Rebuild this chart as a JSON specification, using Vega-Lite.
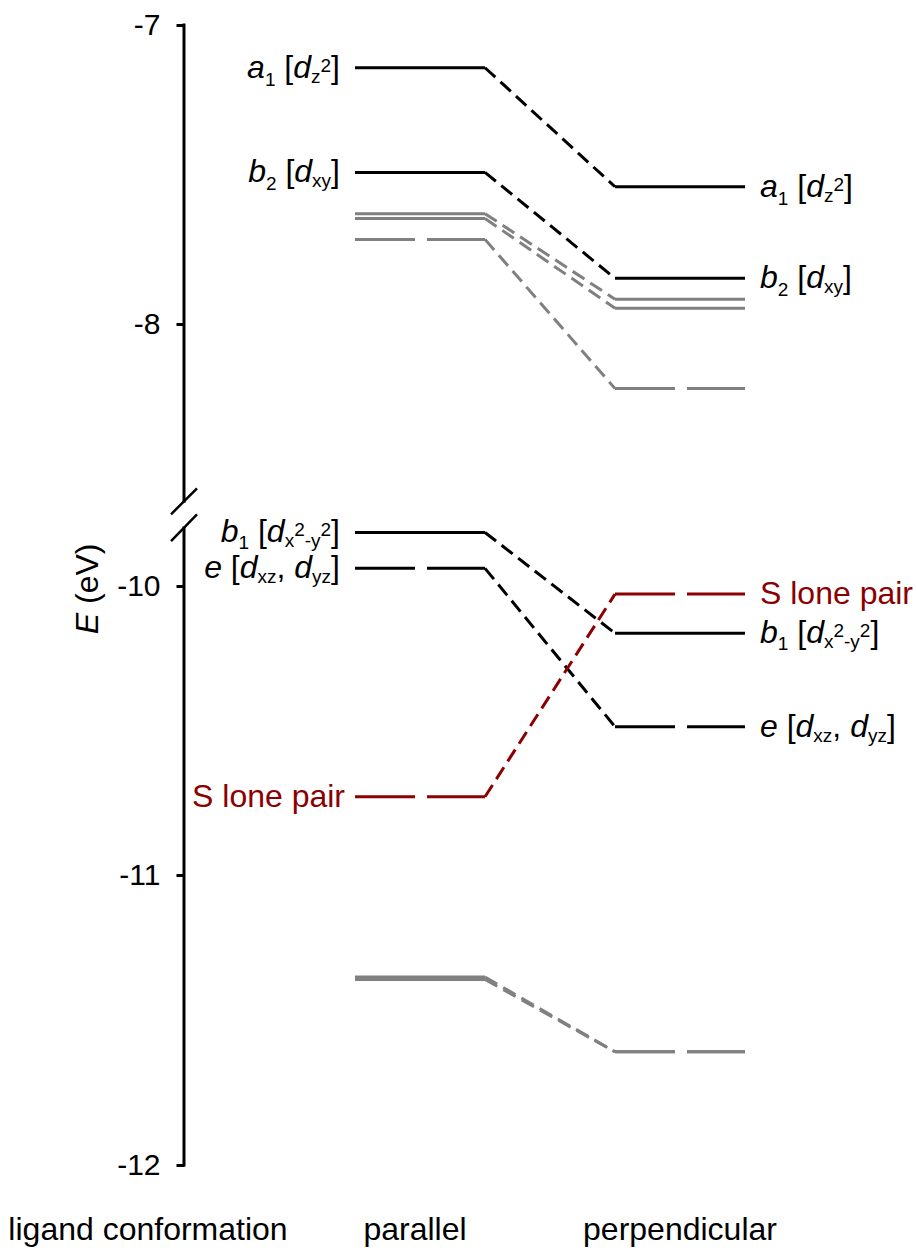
{
 "$schema": "https://vega.github.io/schema/vega-lite/v6.json",
 "width": 916,
 "height": 1140,
 "autosize": {"type": "none"},
 "padding": {"left": 0, "right": 0, "top": 25, "bottom": 86},
 "background": "white",
 "config": {
  "view": {"stroke": null},
  "font": "Liberation Sans",
  "text": {"font": "Liberation Sans", "baseline": "alphabetic", "align": "left", "fontSize": 32, "color": "black"}
 },
 "datasets": {
  "levels": [
   {"orb": "a1", "conf": "parallel", "E": -7.143, "type": "d orbital", "deg": "no"},
   {"orb": "a1", "conf": "perpendicular", "E": -7.541, "type": "d orbital", "deg": "no"},
   {"orb": "b2", "conf": "parallel", "E": -7.493, "type": "d orbital", "deg": "no"},
   {"orb": "b2", "conf": "perpendicular", "E": -7.847, "type": "d orbital", "deg": "no"},
   {"orb": "g1", "conf": "parallel", "E": -7.631, "type": "other", "deg": "no"},
   {"orb": "g1", "conf": "perpendicular", "E": -7.917, "type": "other", "deg": "no"},
   {"orb": "g2", "conf": "parallel", "E": -7.647, "type": "other", "deg": "no"},
   {"orb": "g2", "conf": "perpendicular", "E": -7.947, "type": "other", "deg": "no"},
   {"orb": "g3", "conf": "parallel", "E": -7.717, "type": "other", "deg": "yes"},
   {"orb": "g3", "conf": "perpendicular", "E": -8.216, "type": "other", "deg": "yes"},
   {"orb": "b1", "conf": "parallel", "E": -9.815, "type": "d orbital", "deg": "no"},
   {"orb": "b1", "conf": "perpendicular", "E": -10.163, "type": "d orbital", "deg": "no"},
   {"orb": "e", "conf": "parallel", "E": -9.939, "type": "d orbital", "deg": "yes"},
   {"orb": "e", "conf": "perpendicular", "E": -10.486, "type": "d orbital", "deg": "yes"},
   {"orb": "S", "conf": "parallel", "E": -10.728, "type": "S lone pair", "deg": "yes"},
   {"orb": "S", "conf": "perpendicular", "E": -10.028, "type": "S lone pair", "deg": "yes"},
   {"orb": "g4", "conf": "parallel", "E": -11.351, "type": "other", "deg": "no"},
   {"orb": "g4", "conf": "perpendicular", "E": -11.609, "type": "other", "deg": "yes"},
   {"orb": "g5", "conf": "parallel", "E": -11.359, "type": "other", "deg": "no"},
   {"orb": "g5", "conf": "perpendicular", "E": -11.609, "type": "other", "deg": "yes"}
  ]
 },
 "data": {"name": "levels"},
 "encoding": {
  "x": {"field": "conf", "type": "nominal", "bandPosition": 0,
   "scale": {"domain": ["ligand conformation", "parallel", "perpendicular"], "range": [95, 745], "paddingInner": 0.5, "paddingOuter": 0},
   "axis": {"orient": "bottom", "title": null, "domain": false, "ticks": false, "grid": false, "labelFont": "Liberation Sans", "labelFontSize": 32, "labelColor": "black", "labelPadding": 49, "labelAngle": 0, "labelLimit": 0, "labelOverlap": false,
    "labelOffset": {"condition": [{"test": "datum.value === 'ligand conformation'", "value": -12}, {"test": "datum.value === 'parallel'", "value": -5}], "value": 0}}},
  "y": {"field": "E", "type": "quantitative",
   "scale": {"domain": [-12, -9.8, -8.6, -7], "range": [1140, 503.1, 478.4, 0], "nice": false, "zero": false},
   "axis": {"title": null, "domain": false, "offset": -184, "values": [-12, -11, -10, -8, -7], "labelExpr": "'' + datum.value", "labelFont": "Liberation Sans", "labelFontSize": 30, "labelColor": "black", "labelPadding": 16, "tickSize": 8, "tickWidth": 3, "tickColor": "black", "grid": false}}
 },
 "layer": [
  {"mark": {"type": "rule", "strokeWidth": 3},
   "encoding": {
    "x2": {"field": "conf", "bandPosition": 1},
    "color": {"field": "type", "type": "nominal", "scale": {"domain": ["d orbital", "other", "S lone pair"], "range": ["#000000", "#808080", "#8B0000"]}, "legend": null},
    "strokeDash": {"field": "deg", "type": "nominal", "scale": {"domain": ["no", "yes"], "range": [[1, 0], [60, 12]]}, "legend": null}
   }},
  {"transform": [{"pivot": "conf", "value": "E", "groupby": ["orb", "type"]}],
   "mark": {"type": "rule", "strokeWidth": 3, "strokeDash": [14, 7]},
   "encoding": {
    "x": {"datum": "parallel", "type": "nominal", "bandPosition": 1},
    "x2": {"datum": "perpendicular", "bandPosition": 0},
    "y": {"field": "parallel", "type": "quantitative"},
    "y2": {"field": "perpendicular"},
    "color": {"field": "type", "type": "nominal", "legend": null}
   }},
  {"transform": [{"filter": "datum.orb === 'a1' && datum.conf === 'parallel'"}],
   "mark": {"type": "rule", "strokeWidth": 3, "color": "black", "strokeCap": "square"},
   "encoding": {"x": {"datum": "ligand conformation", "type": "nominal", "bandPosition": 0.6846}, "y": {"datum": -12, "type": "quantitative"}, "y2": {"datum": -9.8}}},
  {"transform": [{"filter": "datum.orb === 'a1' && datum.conf === 'parallel'"}],
   "mark": {"type": "rule", "strokeWidth": 3, "color": "black", "strokeCap": "square"},
   "encoding": {"x": {"datum": "ligand conformation", "type": "nominal", "bandPosition": 0.6846}, "y": {"datum": -8.593, "type": "quantitative"}, "y2": {"datum": -7}}},
  {"transform": [{"filter": "datum.orb === 'a1' && datum.conf === 'parallel'"}],
   "mark": {"type": "rule", "strokeWidth": 2.5, "color": "black"},
   "encoding": {"x": {"datum": "ligand conformation", "type": "nominal", "bandPosition": 0.5846}, "x2": {"datum": "ligand conformation", "bandPosition": 0.7846}, "y": {"datum": -9.1296, "type": "quantitative"}, "y2": {"datum": -8.5495}}},
  {"transform": [{"filter": "datum.orb === 'a1' && datum.conf === 'parallel'"}],
   "mark": {"type": "rule", "strokeWidth": 2.5, "color": "black"},
   "encoding": {"x": {"datum": "ligand conformation", "type": "nominal", "bandPosition": 0.5846}, "x2": {"datum": "ligand conformation", "bandPosition": 0.7846}, "y": {"datum": -9.8446, "type": "quantitative"}, "y2": {"datum": -9.1296}}},
  {"transform": [{"filter": "datum.orb === 'a1' && datum.conf === 'parallel'"}],
   "mark": {"type": "text", "text": "E", "fontStyle": "italic", "angle": 270, "align": "right"},
   "encoding": {"x": {"datum": "ligand conformation", "type": "nominal", "bandPosition": 0.0269}, "y": {"datum": -10.093, "type": "quantitative"}}},
  {"transform": [{"filter": "datum.orb === 'a1' && datum.conf === 'parallel'"}],
   "mark": {"type": "text", "text": "(eV)", "angle": 270, "align": "left", "dx": 8.9},
   "encoding": {"x": {"datum": "ligand conformation", "type": "nominal", "bandPosition": 0.0269}, "y": {"datum": -10.093, "type": "quantitative"}}},

  {"transform": [{"filter": "datum.orb === 'a1'"}], "mark": {"type": "text", "text": "a", "fontStyle": "italic", "dy": 10, "dx": {"expr": "datum.conf === 'parallel' ? -107.9 : 145"}}},
  {"transform": [{"filter": "datum.orb === 'a1'"}], "mark": {"type": "text", "text": "1", "fontSize": 19, "dy": 18, "dx": {"expr": "datum.conf === 'parallel' ? -90.11 : 162.79"}}},
  {"transform": [{"filter": "datum.orb === 'a1'"}], "mark": {"type": "text", "text": "[", "dy": 10, "dx": {"expr": "datum.conf === 'parallel' ? -70.64 : 182.26"}}},
  {"transform": [{"filter": "datum.orb === 'a1'"}], "mark": {"type": "text", "text": "d", "fontStyle": "italic", "dy": 10, "dx": {"expr": "datum.conf === 'parallel' ? -61.75 : 191.15"}}},
  {"transform": [{"filter": "datum.orb === 'a1'"}], "mark": {"type": "text", "text": "z", "fontSize": 19, "dy": 15, "dx": {"expr": "datum.conf === 'parallel' ? -43.96 : 208.94"}}},
  {"transform": [{"filter": "datum.orb === 'a1'"}], "mark": {"type": "text", "text": "2", "fontSize": 19, "dy": 4, "dx": {"expr": "datum.conf === 'parallel' ? -34.46 : 218.44"}}},
  {"transform": [{"filter": "datum.orb === 'a1'"}], "mark": {"type": "text", "text": "]", "dy": 10, "dx": {"expr": "datum.conf === 'parallel' ? -23.9 : 229"}}},

  {"transform": [{"filter": "datum.orb === 'b2'"}], "mark": {"type": "text", "text": "b", "fontStyle": "italic", "dy": 10, "dx": {"expr": "datum.conf === 'parallel' ? -106.84 : 145"}}},
  {"transform": [{"filter": "datum.orb === 'b2'"}], "mark": {"type": "text", "text": "2", "fontSize": 19, "dy": 18, "dx": {"expr": "datum.conf === 'parallel' ? -89.05 : 162.79"}}},
  {"transform": [{"filter": "datum.orb === 'b2'"}], "mark": {"type": "text", "text": "[", "dy": 10, "dx": {"expr": "datum.conf === 'parallel' ? -69.58 : 182.26"}}},
  {"transform": [{"filter": "datum.orb === 'b2'"}], "mark": {"type": "text", "text": "d", "fontStyle": "italic", "dy": 10, "dx": {"expr": "datum.conf === 'parallel' ? -60.69 : 191.15"}}},
  {"transform": [{"filter": "datum.orb === 'b2'"}], "mark": {"type": "text", "text": "xy", "fontSize": 19, "dy": 15, "dx": {"expr": "datum.conf === 'parallel' ? -42.9 : 208.94"}}},
  {"transform": [{"filter": "datum.orb === 'b2'"}], "mark": {"type": "text", "text": "]", "dy": 10, "dx": {"expr": "datum.conf === 'parallel' ? -23.9 : 227.94"}}},

  {"transform": [{"filter": "datum.orb === 'b1'"}], "mark": {"type": "text", "text": "b", "fontStyle": "italic", "dy": 10, "dx": {"expr": "datum.conf === 'parallel' ? -134.29 : 145"}}},
  {"transform": [{"filter": "datum.orb === 'b1'"}], "mark": {"type": "text", "text": "1", "fontSize": 19, "dy": 17, "dx": {"expr": "datum.conf === 'parallel' ? -116.5 : 162.79"}}},
  {"transform": [{"filter": "datum.orb === 'b1'"}], "mark": {"type": "text", "text": "[", "dy": 10, "dx": {"expr": "datum.conf === 'parallel' ? -97.03 : 182.26"}}},
  {"transform": [{"filter": "datum.orb === 'b1'"}], "mark": {"type": "text", "text": "d", "fontStyle": "italic", "dy": 10, "dx": {"expr": "datum.conf === 'parallel' ? -88.14 : 191.15"}}},
  {"transform": [{"filter": "datum.orb === 'b1'"}], "mark": {"type": "text", "text": "x", "fontSize": 19, "dy": 15, "dx": {"expr": "datum.conf === 'parallel' ? -70.35 : 208.94"}}},
  {"transform": [{"filter": "datum.orb === 'b1'"}], "mark": {"type": "text", "text": "2", "fontSize": 19, "dy": 4, "dx": {"expr": "datum.conf === 'parallel' ? -60.85 : 218.44"}}},
  {"transform": [{"filter": "datum.orb === 'b1'"}], "mark": {"type": "text", "text": "-y", "fontSize": 19, "dy": 15, "dx": {"expr": "datum.conf === 'parallel' ? -50.29 : 229"}}},
  {"transform": [{"filter": "datum.orb === 'b1'"}], "mark": {"type": "text", "text": "2", "fontSize": 19, "dy": 4, "dx": {"expr": "datum.conf === 'parallel' ? -34.46 : 244.83"}}},
  {"transform": [{"filter": "datum.orb === 'b1'"}], "mark": {"type": "text", "text": "]", "dy": 10, "dx": {"expr": "datum.conf === 'parallel' ? -23.9 : 255.39"}}},

  {"transform": [{"filter": "datum.orb === 'e'"}], "mark": {"type": "text", "text": "e", "fontStyle": "italic", "dy": 10, "dx": {"expr": "datum.conf === 'parallel' ? -150.85 : 145"}}},
  {"transform": [{"filter": "datum.orb === 'e'"}], "mark": {"type": "text", "text": "[", "dy": 10, "dx": {"expr": "datum.conf === 'parallel' ? -124.16 : 171.69"}}},
  {"transform": [{"filter": "datum.orb === 'e'"}], "mark": {"type": "text", "text": "d", "fontStyle": "italic", "dy": 10, "dx": {"expr": "datum.conf === 'parallel' ? -115.27 : 180.58"}}},
  {"transform": [{"filter": "datum.orb === 'e'"}], "mark": {"type": "text", "text": "xz", "fontSize": 19, "dy": 15, "dx": {"expr": "datum.conf === 'parallel' ? -97.48 : 198.37"}}},
  {"transform": [{"filter": "datum.orb === 'e'"}], "mark": {"type": "text", "text": ",", "dy": 10, "dx": {"expr": "datum.conf === 'parallel' ? -78.48 : 217.37"}}},
  {"transform": [{"filter": "datum.orb === 'e'"}], "mark": {"type": "text", "text": "d", "fontStyle": "italic", "dy": 10, "dx": {"expr": "datum.conf === 'parallel' ? -60.69 : 235.16"}}},
  {"transform": [{"filter": "datum.orb === 'e'"}], "mark": {"type": "text", "text": "yz", "fontSize": 19, "dy": 15, "dx": {"expr": "datum.conf === 'parallel' ? -42.9 : 252.95"}}},
  {"transform": [{"filter": "datum.orb === 'e'"}], "mark": {"type": "text", "text": "]", "dy": 10, "dx": {"expr": "datum.conf === 'parallel' ? -23.9 : 271.95"}}},

  {"transform": [{"filter": "datum.orb === 'S'"}], "mark": {"type": "text", "text": "S lone pair", "color": "#8B0000", "dy": 10, "dx": {"expr": "datum.conf === 'parallel' ? -162.96 : 145"}}}
 ]
}
